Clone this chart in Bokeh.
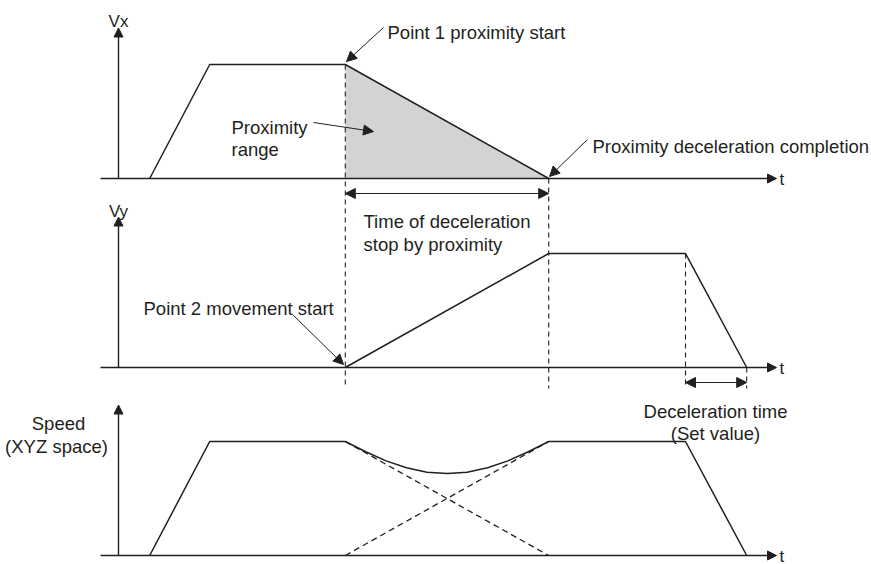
from bokeh.plotting import figure
from bokeh.models import Range1d, Arrow, NormalHead, Label
from bokeh.embed import file_html
from bokeh.resources import INLINE

# ---------------- data (time units, speed as fraction of set speed) ----------------
t_vx = [0.52, 1.52, 3.78, 7.17]
v_vx = [0.0, 1.0, 1.0, 0.0]

t_vy = [3.78, 7.17, 9.45, 10.47]
v_vy = [0.0, 1.0, 1.0, 0.0]

t_speed = [0.52, 1.52, 3.78, 4.12, 4.46, 4.80, 5.14, 5.48, 5.81, 6.15, 6.49, 6.83, 7.17, 9.45, 10.47]
v_speed = [0.0, 1.0, 1.0, 0.91, 0.83, 0.77, 0.73, 0.72, 0.73, 0.77, 0.83, 0.91, 1.0, 1.0, 0.0]

# ---------------- layout helpers (reference pixel -> data units) ----------------
def X(px):
    return (px - 118) / 60.0

def Y(py):
    return (556 - py) / 114.0

W, H = 871, 564
BASE = [Y(178), Y(367), Y(555)]
AXIS_H = 1.32
INK = "#231f20"
FONT = "Liberation Sans"
FS = "18.5px"

p = figure(width=W, height=H, output_backend="svg", toolbar_location=None,
           x_range=Range1d(X(0), X(W)), y_range=Range1d(Y(H), Y(0)),
           x_axis_location=None, y_axis_location=None, min_border=0)
p.grid.visible = False
p.outline_line_color = None
p.background_fill_color = "white"
p.border_fill_color = "white"

def head(size=10):
    return NormalHead(size=size, fill_color=INK, line_color=INK, line_width=1)

# shaded proximity range
p.patch([t_vx[2], t_vx[3], t_vx[2]],
        [BASE[0] + v_vx[2], BASE[0] + v_vx[3], BASE[0]],
        fill_color="#d1d3d4", line_color=None)

# axes with arrows
for b in BASE:
    p.add_layout(Arrow(x_start=0, y_start=b, x_end=0, y_end=b + AXIS_H,
                       end=head(9), line_color=INK, line_width=1.4))
    p.add_layout(Arrow(x_start=X(100), y_start=b, x_end=X(776), y_end=b,
                       end=head(9), line_color=INK, line_width=1.4))
    p.add_layout(Label(x=X(779), y=b - 1.0 / 114, text="t", text_font=FONT,
                       text_font_size="17px", text_color=INK,
                       text_baseline="alphabetic", text_align="left"))

# dashed guide lines
y_bot = Y(388)
p.segment(x0=[t_vx[2], t_vx[3], t_vy[2], t_vy[3]],
          y0=[BASE[0] + v_vx[2], BASE[0] + v_vx[3], BASE[1] + v_vy[2], BASE[1] + v_vy[3]],
          x1=[t_vx[2], t_vx[3], t_vy[2], t_vy[3]],
          y1=[y_bot] * 4, line_color=INK, line_width=1.1, line_dash="5 4")

# dashed components in speed panel
p.line(t_vx[2:], [BASE[2] + v for v in v_vx[2:]], line_color=INK, line_width=1.3, line_dash="6 4")
p.line(t_vy[:2], [BASE[2] + v for v in v_vy[:2]], line_color=INK, line_width=1.3, line_dash="6 4")

# profiles
p.line(t_vx, [BASE[0] + v for v in v_vx], line_color=INK, line_width=1.5)
p.line(t_vy, [BASE[1] + v for v in v_vy], line_color=INK, line_width=1.5)
p.line(t_speed, [BASE[2] + v for v in v_speed], line_color=INK, line_width=1.5)

# double-headed time arrows
p.add_layout(Arrow(x_start=t_vx[2], y_start=Y(193), x_end=t_vx[3], y_end=Y(193),
                   start=head(10), end=head(10), line_color=INK, line_width=1.2))
p.add_layout(Arrow(x_start=t_vy[2], y_start=Y(382), x_end=t_vy[3], y_end=Y(382),
                   start=head(10), end=head(10), line_color=INK, line_width=1.2))

# callout arrows
for (xs, ys, xe, ye) in [(383, 27, 346, 61), (313, 122, 373, 131),
                         (587, 139, 549, 176), (292, 314, 343, 364)]:
    p.add_layout(Arrow(x_start=X(xs), y_start=Y(ys), x_end=X(xe), y_end=Y(ye),
                       end=head(10), line_color=INK, line_width=1.0))

def label(px, py_cap_center, text, align="left", size=FS, cap=0.358 * 18.5):
    p.add_layout(Label(x=X(px), y=Y(py_cap_center + cap), text=text, text_font=FONT,
                       text_font_size=size, text_color=INK,
                       text_baseline="alphabetic", text_align=align))

label(387, 25, "Point 1 proximity start")
label(231, 120, "Proximity")
label(231, 142, "range")
label(592, 139, "Proximity deceleration completion")
label(363, 214, "Time of deceleration")
label(363, 237, "stop by proximity")
label(143, 301, "Point 2 movement start")
label(715, 404, "Deceleration time", align="center")
label(715, 426, "(Set value)", align="center")
label(58, 416, "Speed", align="center")
label(56, 439, "(XYZ space)", align="center")
label(118, 15, "Vx", align="center", size="17px", cap=0.358 * 17)
label(118, 205, "Vy", align="center", size="17px", cap=0.358 * 17)

open("out.html", "w").write(file_html(p, INLINE))
